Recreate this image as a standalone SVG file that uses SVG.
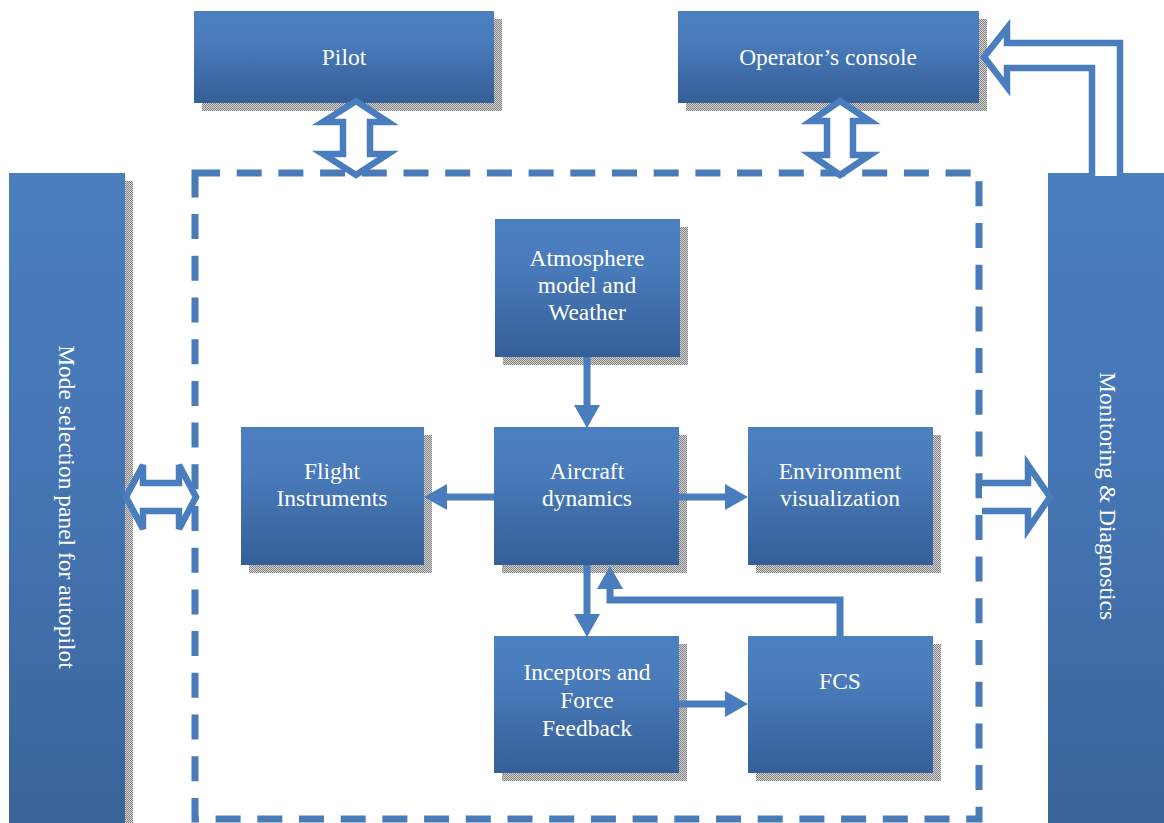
<svg xmlns="http://www.w3.org/2000/svg" width="1164" height="823" viewBox="0 0 1164 823">
<style>
.box{fill:url(#g)}
.panel{fill:url(#gp)}
.sh{fill:url(#dots)}
.t{font-family:"Liberation Serif","Times New Roman",serif;font-size:23.5px;fill:#ffffff;text-anchor:middle}
.conn{stroke:#4a7dbd;stroke-width:7;fill:none}
.blk{stroke:#4a7dbd;stroke-width:6.5;fill:#ffffff;stroke-linejoin:miter}
</style>
<defs>
<linearGradient id="g" x1="0" y1="0" x2="0" y2="1">
<stop offset="0" stop-color="#4c80c1"/>
<stop offset="0.3" stop-color="#4a7cbc"/>
<stop offset="1" stop-color="#355f98"/>
</linearGradient>
<linearGradient id="gp" x1="0" y1="0" x2="0" y2="1">
<stop offset="0" stop-color="#4a7ebf"/>
<stop offset="0.5" stop-color="#4574b3"/>
<stop offset="1" stop-color="#3a6399"/>
</linearGradient>
<pattern id="dots" width="2" height="2" patternUnits="userSpaceOnUse">
<rect width="2" height="2" fill="#d2d2d2"/>
<rect width="1" height="1" fill="#858585"/>
<rect x="1" y="1" width="1" height="1" fill="#858585"/>
</pattern>
<marker id="ah" markerUnits="userSpaceOnUse" markerWidth="23" markerHeight="26" viewBox="0 0 23 26" refX="0" refY="13" orient="auto">
<path d="M0,0 L23,13 L0,26 Z" fill="#4a7dbd"/>
</marker>
</defs>

<g id="frame">
<rect x="195" y="173" width="784" height="646" fill="none" stroke="#4a7bb9" stroke-width="7" stroke-dasharray="25 16.7"/>
</g>

<g id="pilot">
<rect class="sh" x="202" y="19" width="300" height="92"/>
<rect class="box" x="194" y="11" width="300" height="92"/>
<text class="t" x="344" y="65">Pilot</text>
</g>

<g id="operator">
<rect class="sh" x="686" y="19" width="301" height="92"/>
<rect class="box" x="678" y="11" width="301" height="92"/>
<text class="t" x="828" y="65">Operator’s console</text>
</g>

<g id="mode-panel">
<rect class="sh" x="17" y="181" width="116" height="650"/>
<rect class="panel" x="9" y="173" width="116" height="655"/>
<text class="t" transform="translate(67,507) rotate(90)" x="0" y="8">Mode selection panel for autopilot</text>
</g>

<g id="monitoring">
<rect class="panel" x="1048" y="173" width="120" height="655"/>
<text class="t" transform="translate(1108,496) rotate(90)" x="0" y="8">Monitoring &amp; Diagnostics</text>
</g>

<g id="atmosphere">
<rect class="sh" x="503" y="227" width="185" height="138"/>
<rect class="box" x="495" y="219" width="185" height="138"/>
<text class="t" x="587" y="266">Atmosphere</text>
<text class="t" x="587" y="293">model and</text>
<text class="t" x="587" y="320">Weather</text>
</g>

<g id="flight-instruments">
<rect class="sh" x="249" y="435" width="183" height="138"/>
<rect class="box" x="241" y="427" width="183" height="138"/>
<text class="t" x="332" y="479">Flight</text>
<text class="t" x="332" y="506">Instruments</text>
</g>

<g id="aircraft-dynamics">
<rect class="sh" x="502" y="435" width="185" height="138"/>
<rect class="box" x="494" y="427" width="185" height="138"/>
<text class="t" x="587" y="479">Aircraft</text>
<text class="t" x="587" y="506">dynamics</text>
</g>

<g id="environment">
<rect class="sh" x="756" y="435" width="185" height="138"/>
<rect class="box" x="748" y="427" width="185" height="138"/>
<text class="t" x="840" y="479">Environment</text>
<text class="t" x="840" y="506">visualization</text>
</g>

<g id="inceptors">
<rect class="sh" x="502" y="644" width="185" height="137"/>
<rect class="box" x="494" y="636" width="185" height="137"/>
<text class="t" x="587" y="680">Inceptors and</text>
<text class="t" x="587" y="708">Force</text>
<text class="t" x="587" y="736">Feedback</text>
</g>

<g id="fcs">
<rect class="sh" x="756" y="644" width="185" height="137"/>
<rect class="box" x="748" y="636" width="185" height="137"/>
<text class="t" x="840" y="689">FCS</text>
</g>

<g id="connectors">
<polygon class="blk" points="356,101 388,122 370,122 370,154 388,154 356,175 323,154 343,154 343,122 323,122"/>
<polygon class="blk" points="840,101 870,121 853,121 853,155 870,155 840,175 811,155 827,155 827,121 811,121"/>
<polygon class="blk" points="126,497 143,465 143,483 179,483 179,465 196,497 179,529 179,511 143,511 143,529"/>
<path class="blk" d="M982,483 H1028 V465 L1050,497 L1028,529 V511 H982"/>
<path class="blk" d="M1092,176 V68 H1007 V87 L984,57 L1007,28 V43 H1120 V176"/>
<line class="conn" x1="587" y1="357" x2="587" y2="405" marker-end="url(#ah)"/>
<line class="conn" x1="494" y1="497" x2="447" y2="497" marker-end="url(#ah)"/>
<line class="conn" x1="679" y1="497" x2="725" y2="497" marker-end="url(#ah)"/>
<line class="conn" x1="587" y1="565" x2="587" y2="614" marker-end="url(#ah)"/>
<path class="conn" d="M840,636 V600 H610 V589" marker-end="url(#ah)"/>
<line class="conn" x1="679" y1="704" x2="725" y2="704" marker-end="url(#ah)"/>
</g>
</svg>
